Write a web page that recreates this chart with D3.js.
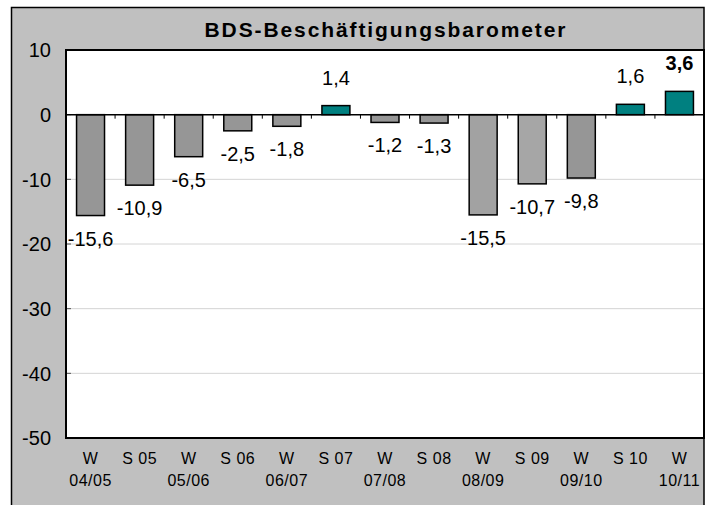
<!DOCTYPE html>
<html>
<head>
<meta charset="utf-8">
<script src="https://cdn.jsdelivr.net/npm/d3@7"></script>
<style>
  body { margin: 0; background: #fff; }
  text { font-family: "Liberation Sans", Arial, sans-serif; }
</style>
</head>
<body>
<script>
// data
var catTop = ["W", "S 05", "W", "S 06", "W", "S 07", "W", "S 08", "W", "S 09", "W", "S 10", "W"];
var catBottom = ["04/05", "", "05/06", "", "06/07", "", "07/08", "", "08/09", "", "09/10", "", "10/11"];
var values = [-15.6, -10.9, -6.5, -2.5, -1.8, 1.4, -1.2, -1.3, -15.5, -10.7, -9.8, 1.6, 3.6];
var yTicks = [10, 0, -10, -20, -30, -40, -50];
var title = "BDS-Beschäftigungsbarometer";

var W = 706, H = 505;
var plot = { left: 66, top: 50, right: 704, bottom: 438 };

var svg = d3.select("body").append("svg")
  .attr("width", W)
  .attr("height", H);

// outer frame
svg.append("rect")
  .attr("x", 11.5).attr("y", 7.5)
  .attr("width", 704 - 11.5).attr("height", H)
  .style("fill", "#c0c0c0")
  .style("stroke", "#000")
  .style("stroke-width", 1.5);

var x = d3.scaleBand()
  .domain(d3.range(values.length))
  .range([plot.left, plot.right])
  .paddingInner(0.43)
  .paddingOuter(0.215);

var y = d3.scaleLinear()
  .domain([-50, 10])
  .range([plot.bottom, plot.top]);

// plot area
svg.append("rect")
  .attr("x", plot.left).attr("y", plot.top)
  .attr("width", plot.right - plot.left)
  .attr("height", plot.bottom - plot.top)
  .style("fill", "#fff");

// gridlines
svg.selectAll(".grid")
  .data(yTicks.filter(function(d) { return d < 0 && d > -50; }))
  .enter().append("line")
  .attr("x1", plot.left).attr("x2", plot.right)
  .attr("y1", function(d) { return y(d); })
  .attr("y2", function(d) { return y(d); })
  .style("stroke", "#d4d4d4")
  .style("stroke-width", 1);

// y ticks (inward)
svg.selectAll(".ytick")
  .data(yTicks)
  .enter().append("line")
  .attr("x1", plot.left).attr("x2", plot.left + 5)
  .attr("y1", function(d) { return y(d); })
  .attr("y2", function(d) { return y(d); })
  .style("stroke", "#555")
  .style("stroke-width", 1);

// y labels
svg.selectAll(".ylab")
  .data(yTicks)
  .enter().append("text")
  .attr("x", 51)
  .attr("y", function(d) { return y(d); })
  .attr("dy", "0.36em")
  .attr("text-anchor", "end")
  .style("font-size", "20px")
  .style("fill", "#000")
  .text(function(d) { return d; });

// bars
var fills = ["#969696", "#969696", "#969696", "#969696", "#969696", "#008080", "#969696",
             "#969696", "#a2a2a2", "#a6a6a6", "#969696", "#008080", "#008080"];
svg.selectAll(".bar")
  .data(values)
  .enter().append("rect")
  .attr("x", function(d, i) { return x(i); })
  .attr("y", function(d) { return y(Math.max(0, d)); })
  .attr("width", x.bandwidth())
  .attr("height", function(d) { return Math.abs(y(d) - y(0)); })
  .style("fill", function(d, i) { return fills[i]; })
  .style("stroke", "#000")
  .style("stroke-width", 1.5);

// zero line + category ticks
svg.append("line")
  .attr("x1", plot.left).attr("x2", plot.right)
  .attr("y1", y(0)).attr("y2", y(0))
  .style("stroke", "#000")
  .style("stroke-width", 1.5);

svg.selectAll(".xtick")
  .data(d3.range(1, values.length))
  .enter().append("line")
  .attr("x1", function(i) { return plot.left + i * x.step(); })
  .attr("x2", function(i) { return plot.left + i * x.step(); })
  .attr("y1", y(0)).attr("y2", y(0) + 4)
  .style("stroke", "#000")
  .style("stroke-width", 1);

// value labels
svg.selectAll(".vlab")
  .data(values)
  .enter().append("text")
  .attr("x", function(d, i) { return x(i) + x.bandwidth() / 2; })
  .attr("y", function(d) { return d < 0 ? y(d) + 30 : y(d) - 21; })
  .attr("text-anchor", "middle")
  .style("font-size", "20px")
  .style("font-weight", function(d, i) { return i === values.length - 1 ? "bold" : "normal"; })
  .style("fill", "#000")
  .text(function(d) { return String(d).replace(".", ","); });

// plot border
svg.append("rect")
  .attr("x", plot.left).attr("y", plot.top)
  .attr("width", plot.right - plot.left)
  .attr("height", plot.bottom - plot.top)
  .style("fill", "none")
  .style("stroke", "#000")
  .style("stroke-width", 2);

// category labels
svg.selectAll(".xlab1")
  .data(catTop)
  .enter().append("text")
  .attr("x", function(d, i) { return x(i) + x.bandwidth() / 2; })
  .attr("y", 464)
  .attr("text-anchor", "middle")
  .style("font-size", "16px")
  .style("letter-spacing", "0.5px")
  .text(function(d) { return d; });

svg.selectAll(".xlab2")
  .data(catBottom)
  .enter().append("text")
  .attr("x", function(d, i) { return x(i) + x.bandwidth() / 2; })
  .attr("y", 486)
  .attr("text-anchor", "middle")
  .style("font-size", "16px")
  .style("letter-spacing", "0.5px")
  .text(function(d) { return d; });

// title
svg.append("text")
  .attr("x", (plot.left + plot.right) / 2)
  .attr("y", 37)
  .attr("text-anchor", "middle")
  .attr("textLength", 361)
  .attr("lengthAdjust", "spacing")
  .style("font-size", "21px")
  .style("font-weight", "bold")
  .text(title);
</script>
</body>
</html>
